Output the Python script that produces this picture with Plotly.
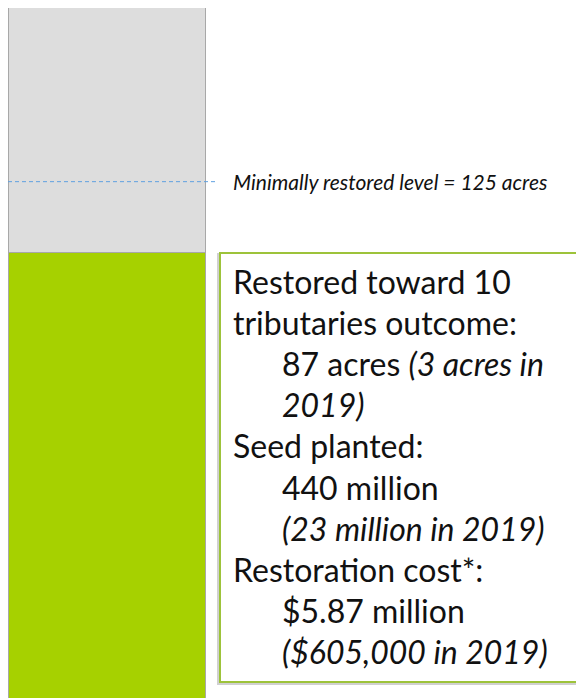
import plotly.graph_objects as go

# ---- data ----
categories = ["Tributaries"]
restored_acres = [108]      # green segment
remaining_acres = [60]      # grey segment up to full restoration
minimal_level = 125         # dashed reference line
restored_total = 87
restored_2019 = 3
seed_total = 440
seed_2019 = 23
cost_total = 5.87
cost_2019 = 605000

W, H = 584, 698
FONT = "Lato"

fig = go.Figure()
fig.add_trace(go.Bar(x=[0], y=restored_acres, width=1, name="Restored",
                     marker=dict(color="#A6D100", line=dict(color="#A8A8A8", width=1))))
fig.add_trace(go.Bar(x=[0], y=remaining_acres, width=1, name="Remaining",
                     marker=dict(color="#DDDDDD", line=dict(color="#A8A8A8", width=1))))

# reference dashed line
fig.add_shape(type="line", xref="paper", yref="y", x0=0, x1=207 / W,
              y0=minimal_level, y1=minimal_level,
              line=dict(color="#5FA0E0", width=1, dash="4px,3px"))
fig.add_annotation(xref="paper", yref="y", x=223 / W, y=minimal_level,
                   xanchor="left", yanchor="middle", showarrow=False,
                   text=f"<i>Minimally restored level = {minimal_level} acres</i>",
                   font=dict(family=FONT, size=21, color="#111111"))

# info box
def py(p):
    return 1 - p / H

fig.add_shape(type="rect", xref="paper", yref="paper",
              x0=210 / W, x1=1.02, y0=py(676), y1=py(246),
              line=dict(color="#D0D0D0", width=2), fillcolor="rgba(0,0,0,0)")
fig.add_shape(type="rect", xref="paper", yref="paper",
              x0=212 / W, x1=1.02, y0=py(674), y1=py(245),
              line=dict(color="#9DC33A", width=2), fillcolor="white")

lines = [
    ("Restored toward 10", False),
    ("tributaries outcome:", False),
    (f"{restored_total} acres <i>({restored_2019} acres in</i>", True),
    ("<i>2019)</i>", True),
    ("Seed planted:", False),
    (f"{seed_total} million", True),
    (f"<i>({seed_2019} million in 2019)</i>", True),
    ("Restoration cost*:", False),
    (f"${cost_total:.2f} million", True),
    (f"<i>(${cost_2019:,} in 2019)</i>", True),
]
y0, step = 273, 41.2
for i, (t, ind) in enumerate(lines):
    fig.add_annotation(xref="paper", yref="paper",
                       x=(272 if ind else 223) / W, y=py(y0 + i * step),
                       xanchor="left", yanchor="middle", showarrow=False, text=t,
                       font=dict(family=FONT, size=32, color="#111111"))

fig.update_layout(
    width=W, height=H, barmode="stack", showlegend=False,
    margin=dict(l=0, r=0, t=0, b=0),
    paper_bgcolor="white", plot_bgcolor="white",
    xaxis=dict(range=[-0.5, 2.4645], visible=False, fixedrange=True),
    yaxis=dict(range=[0, 166.4], visible=False, fixedrange=True),
)
fig.write_html("out.html")
